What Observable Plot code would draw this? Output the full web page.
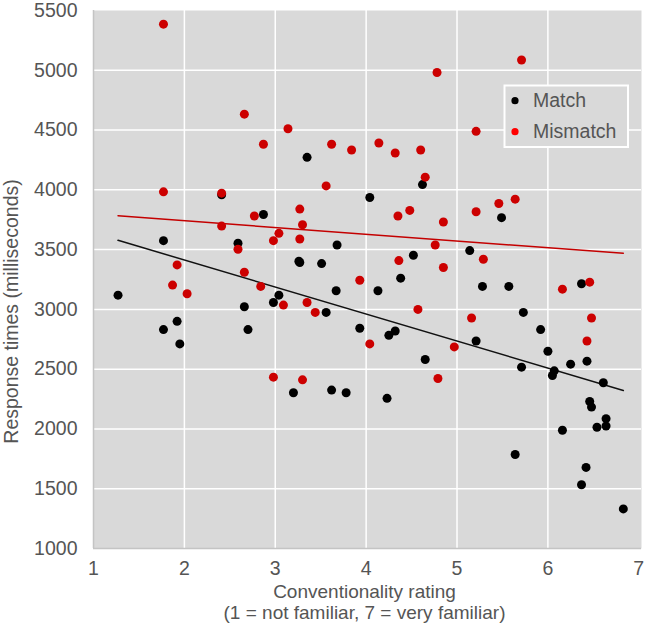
<!DOCTYPE html>
<html>
<head>
<meta charset="utf-8">
<script src="https://cdn.jsdelivr.net/npm/d3@7"></script>
<script src="https://cdn.jsdelivr.net/npm/@observablehq/plot@0.6"></script>
<style>
  body { margin: 0; background: #fff; }
  #wrap { position: relative; width: 645px; height: 624px; }
  #wrap svg.legend { position: absolute; left: 0; top: 0; pointer-events: none; }
</style>
</head>
<body>
<div id="wrap"></div>
<script>
// ---- Data ----
const matchX = [1.27, 1.77, 1.77, 1.92, 1.95, 2.41, 2.59, 2.66, 2.70, 2.87, 2.98, 3.04, 3.20, 3.26, 3.27, 3.35, 3.51, 3.56, 3.62, 3.67, 3.68, 3.78, 3.93, 4.04, 4.13, 4.23, 4.25, 4.32, 4.38, 4.52, 4.62, 4.65, 5.14, 5.21, 5.28, 5.49, 5.57, 5.64, 5.73, 5.71, 5.92, 6.00, 6.07, 6.05, 6.16, 6.25, 6.37, 6.37, 6.42, 6.43, 6.46, 6.48, 6.54, 6.61, 6.64, 6.64, 6.83];
const matchY = [3119, 3575, 2831, 2900, 2711, 3958, 3553, 3022, 2831, 3794, 3058, 3119, 2303, 3403, 3392, 4272, 3383, 2975, 2325, 3156, 3539, 2303, 2842, 3936, 3156, 2256, 2783, 2819, 3261, 3453, 4044, 2581, 3492, 2736, 3192, 3767, 3192, 1786, 2975, 2517, 2831, 2650, 2486, 2447, 1989, 2542, 3214, 1533, 1678, 2567, 2230, 2183, 2014, 2386, 2086, 2025, 1331];
const mismatchX = [1.77, 2.66, 2.87, 1.77, 2.41, 2.77, 2.41, 2.59, 2.98, 3.04, 1.92, 2.66, 1.87, 2.03, 2.84, 2.98, 3.14, 3.62, 3.84, 4.14, 4.32, 4.60, 4.78, 4.65, 3.56, 3.27, 4.35, 4.48, 3.30, 4.85, 3.27, 4.76, 4.36, 4.85, 3.93, 3.09, 3.35, 3.44, 4.57, 4.04, 4.97, 3.30, 4.79, 5.71, 5.21, 5.21, 5.46, 5.64, 5.29, 6.46, 6.16, 5.16, 6.48, 6.43];
const mismatchY = [5386, 4633, 4381, 3983, 3972, 3781, 3697, 3503, 3575, 3636, 3372, 3311, 3203, 3131, 3192, 2433, 4511, 4381, 4333, 4392, 4308, 4333, 4981, 4106, 4033, 3839, 3781, 3828, 3708, 3731, 3589, 3539, 3408, 3350, 3244, 3036, 3058, 2975, 3000, 2711, 2686, 2411, 2422, 5086, 4489, 3817, 3886, 3922, 3419, 3228, 3169, 2928, 2928, 2736];

// Trend lines (end points)
const trendX = [1.27, 6.83];
const matchTrendY = [3578, 2322];
const mismatchTrendY = [3783, 3469];

const xTicks = [1, 2, 3, 4, 5, 6, 7];
const yTicks = [1000, 1500, 2000, 2500, 3000, 3500, 4000, 4500, 5000, 5500];
const xGridValues = [2, 3, 4, 5, 6];
const yGridValues = [1500, 2000, 2500, 3000, 3500, 4000, 4500, 5000];

const xTitle = "Conventionality rating\n(1 = not familiar, 7 = very familiar)";
const yTitle = "Response times (milliseconds)";
const legendLabels = ["Match", "Mismatch"];
const legendColors = ["#000000", "#ff0000"];

// ---- Build tables ----
const match = matchX.map((x, i) => ({x, y: matchY[i]}));
const mismatch = mismatchX.map((x, i) => ({x, y: mismatchY[i]}));
const matchTrend = trendX.map((x, i) => ({x, y: matchTrendY[i]}));
const mismatchTrend = trendX.map((x, i) => ({x, y: mismatchTrendY[i]}));

const FONT = "'Liberation Sans', Arial, Helvetica, sans-serif";
const TEXT = "#555555";

const chart = Plot.plot({
  width: 645,
  height: 624,
  marginLeft: 93,
  marginRight: 4,
  marginTop: 10,
  marginBottom: 76,
  style: {fontFamily: FONT, fontSize: "19.5px", color: TEXT, background: "#fff"},
  x: {domain: [1, 7.03], ticks: xTicks, tickSize: 0, tickPadding: 13, label: null, tickFormat: d3.format("d")},
  y: {domain: [1000, 5500], ticks: yTicks, tickSize: 0, tickPadding: 16, label: null, tickFormat: d3.format("d")},
  marks: [
    Plot.frame({fill: "#d9d9d9", stroke: "none"}),
    Plot.ruleX(xGridValues, {stroke: "#ffffff", strokeWidth: 1.5}),
    Plot.ruleY(yGridValues, {stroke: "#ffffff", strokeWidth: 1.5}),
    Plot.ruleX([xTicks[0]], {stroke: "#c4c4c4", strokeWidth: 1.5}),
    Plot.ruleY([yTicks[0]], {stroke: "#c4c4c4", strokeWidth: 1.5}),
    Plot.line(matchTrend, {x: "x", y: "y", stroke: "#111111", strokeWidth: 1.5}),
    Plot.line(mismatchTrend, {x: "x", y: "y", stroke: "#c40000", strokeWidth: 1.5}),
    Plot.dot(match, {x: "x", y: "y", r: 4.5, fill: "#000000", stroke: "none"}),
    Plot.dot(mismatch, {x: "x", y: "y", r: 4.5, fill: "#cc0000", stroke: "none"}),
    Plot.text([xTitle], {text: d => d, frameAnchor: "bottom", textAnchor: "middle", lineAnchor: "bottom", lineHeight: 1.1, dy: 70, dx: -3, fontSize: 19, fill: TEXT}),
    Plot.text([yTitle], {text: d => d, frameAnchor: "left", textAnchor: "middle", rotate: -90, lineAnchor: "bottom", dx: -76, dy: 32, fontSize: 19.5, fill: TEXT})
  ]
});

const wrap = document.getElementById("wrap");
wrap.appendChild(chart);

// ---- Legend overlay ----
const leg = d3.select(wrap).append("svg")
  .attr("class", "legend")
  .attr("width", 645).attr("height", 160);
leg.append("rect")
  .attr("x", 504.5).attr("y", 85.5).attr("width", 123.5).attr("height", 61.5)
  .attr("fill", "#d9d9d9").attr("stroke", "#ffffff").attr("stroke-width", 2);
const items = leg.selectAll("g.item").data(legendLabels).join("g")
  .attr("class", "item")
  .attr("transform", (d, i) => `translate(515, ${100.7 + i * 31})`);
items.append("circle").attr("r", 3.6).attr("fill", (d, i) => legendColors[i]);
items.append("text").attr("x", 18).attr("y", 6.3)
  .attr("font-family", FONT).attr("font-size", 19.5).attr("fill", TEXT)
  .text(d => d);
</script>
</body>
</html>
